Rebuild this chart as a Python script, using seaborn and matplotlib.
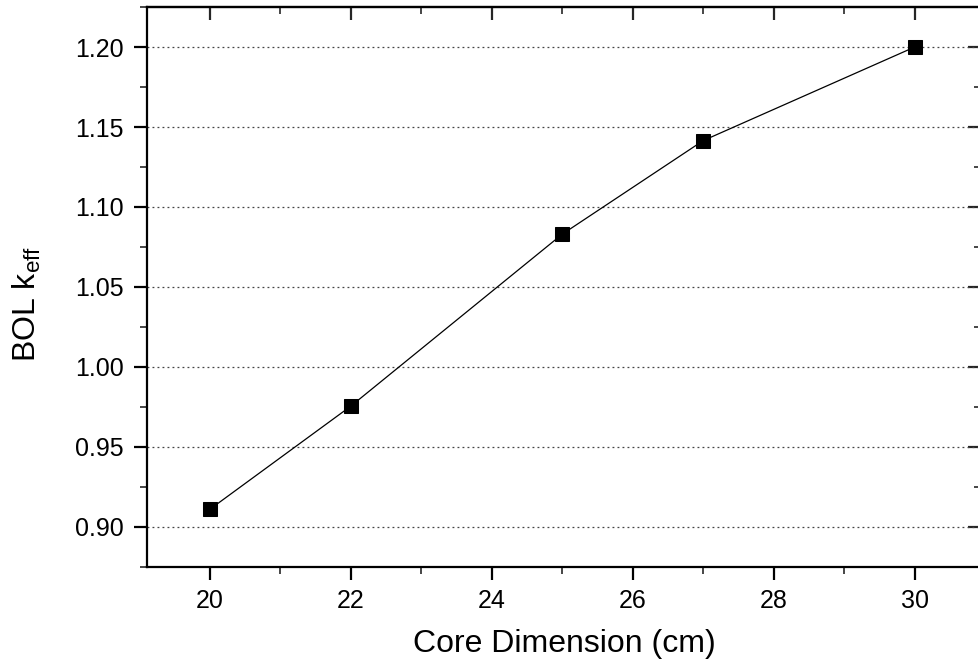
import matplotlib
matplotlib.use("Agg")
import matplotlib.pyplot as plt
import seaborn as sns
import pandas as pd
from matplotlib.ticker import MultipleLocator

core_dimension = [20, 22, 25, 27, 30]
bol_keff = [0.911, 0.9755, 1.083, 1.1415, 1.200]
x_ticks = [20, 22, 24, 26, 28, 30]
y_ticks = [0.90, 0.95, 1.00, 1.05, 1.10, 1.15, 1.20]

sns.set_theme(style="white")
plt.rcParams['font.family'] = ['Liberation Sans', 'DejaVu Sans']
plt.rcParams['mathtext.default'] = 'regular'

df = pd.DataFrame({"x": core_dimension, "y": bol_keff})

fig = plt.figure(figsize=(9.79, 6.64), dpi=100)
W, H = 979, 664
ax = fig.add_axes([147 / W, 1 - 567 / H, (981 - 147) / W, (567 - 7) / H])

sns.lineplot(data=df, x="x", y="y", ax=ax, color="black", linewidth=0.9,
             marker="s", markersize=10, markeredgecolor="black",
             markerfacecolor="black", zorder=3)

ax.set_xlim(19.11, 30.94)
ax.set_ylim(0.875, 1.225)
ax.set_xticks(x_ticks)
ax.set_yticks(y_ticks)
ax.set_yticklabels([f"{v:.2f}" for v in y_ticks])
ax.xaxis.set_minor_locator(MultipleLocator(1))
ax.yaxis.set_minor_locator(MultipleLocator(0.025))

ax.grid(axis="y", which="major", linestyle=(0, (1.5, 2.5)), color="#444444", linewidth=0.9)
ax.grid(axis="x", visible=False)

for s in ax.spines.values():
    s.set_color("black")
    s.set_linewidth(1.6)
    s.set_visible(True)

ax.tick_params(axis="both", which="major", direction="out", length=9.5, width=1.6,
               labelsize=18, colors="black", bottom=True, left=True, top=False, right=False)
ax.tick_params(axis="both", which="minor", direction="out", length=5, width=1.2,
               bottom=True, left=True, top=False, right=False)
ax.tick_params(axis="x", pad=6)
ax.tick_params(axis="y", pad=7)

# inward ticks on top and right
axt = ax.secondary_xaxis("top")
axt.set_xticks(x_ticks)
axt.xaxis.set_minor_locator(MultipleLocator(1))
axt.tick_params(which="major", direction="in", length=9.5, width=1.6, labeltop=False)
axt.tick_params(which="minor", direction="in", length=5, width=1.2)
axt.spines["top"].set_linewidth(1.6)
axr = ax.secondary_yaxis("right")
axr.set_yticks(y_ticks)
axr.yaxis.set_minor_locator(MultipleLocator(0.025))
axr.tick_params(which="major", direction="in", length=9.5, width=1.6, labelright=False)
axr.tick_params(which="minor", direction="in", length=5, width=1.2)
axr.spines["right"].set_linewidth(1.6)

ax.set_xlabel("Core Dimension (cm)", fontsize=23, color="black", labelpad=12)
ax.set_ylabel("BOL k$_{eff}$", fontsize=23, color="black", labelpad=20)
ax.yaxis.set_label_coords(-0.125, 0.47)

fig.savefig("out.png", dpi=100)
